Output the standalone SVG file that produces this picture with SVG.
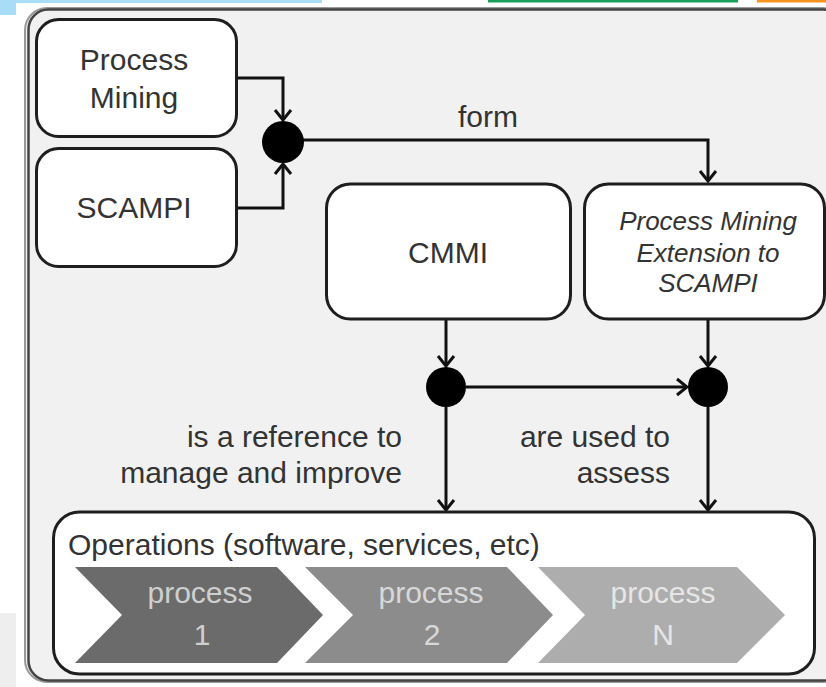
<svg xmlns="http://www.w3.org/2000/svg" width="826" height="687" viewBox="0 0 826 687">
  <defs>
    <marker id="arrow" viewBox="-13 -10 15 20" refX="0" refY="0" markerWidth="15" markerHeight="20" markerUnits="userSpaceOnUse" orient="auto">
      <path d="M-10,-8 L0,0 L-10,8" fill="none" stroke="#111" stroke-width="3" stroke-linejoin="miter"/>
    </marker>
  </defs>
  <style>
    .box { fill: #ffffff; stroke: #1e1e1e; stroke-width: 3; }
    .wire { fill: none; stroke: #111; stroke-width: 3; }
    .dot { fill: #000; }
    .lbl { font-family: "Liberation Sans", Arial, sans-serif; fill: #333; font-size: 30px; }
    .it { font-style: italic; font-size: 26px; }
    .chev-text { font-family: "Liberation Sans", Arial, sans-serif; font-size: 30px; text-anchor: middle; }
  </style>

  <!-- page background -->
  <rect x="0" y="0" width="826" height="687" fill="#ffffff"/>
  <path d="M0,0 H322 V3 H16 V15 H0 Z" fill="#a9ddf7"/>
  <rect x="488" y="0" width="250" height="2.5" fill="#1aa05a"/>
  <rect x="757" y="0" width="69" height="2.5" fill="#f7941d"/>
  <rect x="0" y="613" width="16" height="74" fill="#eeeeee"/>

  <!-- outer frame -->
  <rect x="25" y="8" width="820" height="674" rx="22" fill="#f1f1f1" stroke="#9a9a9a" stroke-width="2"/>
  <rect x="28.5" y="9.5" width="815" height="671" rx="20" fill="none" stroke="#444" stroke-width="2.5"/>

  <!-- connectors -->
  <g id="connectors">
    <path class="wire" d="M237,78 H283 V120" marker-end="url(#arrow)"/>
    <path class="wire" d="M237,208 H283 V164" marker-end="url(#arrow)"/>
    <path class="wire" d="M303,140 H708 V181" marker-end="url(#arrow)"/>
    <path class="wire" d="M446,320 V366" marker-end="url(#arrow)"/>
    <path class="wire" d="M708,320 V366" marker-end="url(#arrow)"/>
    <path class="wire" d="M466,387 H687" marker-end="url(#arrow)"/>
    <path class="wire" d="M446,407 V510" marker-end="url(#arrow)"/>
    <path class="wire" d="M708,407 V510" marker-end="url(#arrow)"/>
    <text class="lbl" x="488" y="127" font-size="30" text-anchor="middle">form</text>
    <text class="lbl" x="402" y="447" text-anchor="end">is a reference to</text>
    <text class="lbl" x="402" y="483" text-anchor="end">manage and improve</text>
    <text class="lbl" x="670" y="447" text-anchor="end">are used to</text>
    <text class="lbl" x="670" y="483" text-anchor="end">assess</text>
  </g>

  <!-- junctions -->
  <g id="junction-form"><circle class="dot" cx="283" cy="142" r="21"/></g>
  <g id="junction-cmmi"><circle class="dot" cx="446" cy="387" r="20"/></g>
  <g id="junction-ext"><circle class="dot" cx="708" cy="387" r="20"/></g>

  <g id="process-mining">
    <rect class="box" x="36.5" y="19.5" width="200" height="117" rx="22"/>
    <text class="lbl" x="134" y="70" text-anchor="middle">Process</text>
    <text class="lbl" x="134" y="108" text-anchor="middle">Mining</text>
  </g>

  <g id="scampi">
    <rect class="box" x="36.5" y="148.5" width="200" height="118" rx="22"/>
    <text class="lbl" x="134" y="218" text-anchor="middle">SCAMPI</text>
  </g>

  <g id="cmmi">
    <rect class="box" x="326.5" y="184" width="244" height="135" rx="24"/>
    <text class="lbl" x="448" y="263" font-size="26" text-anchor="middle">CMMI</text>
  </g>

  <g id="pm-extension">
    <rect class="box" x="584.5" y="184" width="240" height="135" rx="24"/>
    <text class="lbl it" x="708" y="230" text-anchor="middle">Process Mining</text>
    <text class="lbl it" x="708" y="262" text-anchor="middle">Extension to</text>
    <text class="lbl it" x="708" y="292" text-anchor="middle">SCAMPI</text>
  </g>

  <g id="operations">
    <rect class="box" x="53.5" y="512" width="761" height="162" rx="26"/>
    <text class="lbl" x="68" y="555">Operations (software, services, etc)</text>
    <polygon points="75,567 277,567 323,615 277,663 75,663 122,615" fill="#6b6b6b"/>
    <polygon points="305,567 507,567 553,615 507,663 305,663 353,615" fill="#8c8c8c"/>
    <polygon points="538,567 737,567 785,615 737,663 538,663 585,615" fill="#adadad"/>
    <text class="chev-text" x="200" y="603" fill="#cfcfcf">process</text>
    <text class="chev-text" x="202" y="645" font-size="27" fill="#cfcfcf">1</text>
    <text class="chev-text" x="431" y="603" fill="#d8d8d8">process</text>
    <text class="chev-text" x="432" y="645" font-size="27" fill="#d8d8d8">2</text>
    <text class="chev-text" x="663" y="603" fill="#e6e6e6">process</text>
    <text class="chev-text" x="663" y="645" font-size="27" fill="#e6e6e6">N</text>
  </g>
</svg>
